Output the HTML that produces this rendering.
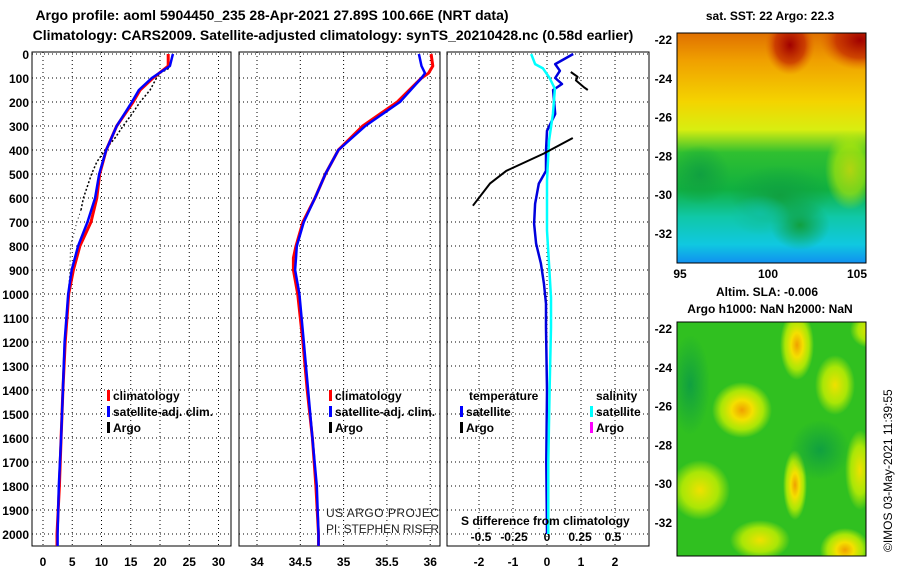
<!DOCTYPE html>
<html><head><meta charset="utf-8"><style>
body{margin:0;background:#fff;width:900px;height:580px;overflow:hidden;font-family:"Liberation Sans",sans-serif;}
svg text{font-family:"Liberation Sans",sans-serif;}
</style></head><body>
<svg id="c" width="900" height="580" xmlns="http://www.w3.org/2000/svg">
<defs>
<linearGradient id="sstBase" x1="0" y1="0" x2="0" y2="1">
<stop offset="0" stop-color="#e07000"/><stop offset="0.12" stop-color="#f0a000"/><stop offset="0.3" stop-color="#f4d400"/><stop offset="0.42" stop-color="#d8ee10"/><stop offset="0.52" stop-color="#30c030"/><stop offset="0.68" stop-color="#10b040"/><stop offset="0.8" stop-color="#10c8a8"/><stop offset="0.92" stop-color="#10c8e0"/><stop offset="1" stop-color="#1090f0"/>
</linearGradient>
<radialGradient id="redBlob"><stop offset="0" stop-color="#a00000"/><stop offset="0.6" stop-color="#c02000" stop-opacity="0.7"/><stop offset="1" stop-color="#e06000" stop-opacity="0"/></radialGradient>
<radialGradient id="yelBlob"><stop offset="0" stop-color="#f0a000"/><stop offset="0.35" stop-color="#f4e000"/><stop offset="0.7" stop-color="#c8f000" stop-opacity="0.8"/><stop offset="1" stop-color="#c8f000" stop-opacity="0"/></radialGradient>
<radialGradient id="ylBlob"><stop offset="0" stop-color="#f0e000"/><stop offset="0.6" stop-color="#c8f000" stop-opacity="0.8"/><stop offset="1" stop-color="#c8f000" stop-opacity="0"/></radialGradient>
<radialGradient id="dgBlob"><stop offset="0" stop-color="#10a040"/><stop offset="1" stop-color="#10a040" stop-opacity="0"/></radialGradient>
<radialGradient id="cyBlob"><stop offset="0" stop-color="#10c0a0"/><stop offset="1" stop-color="#10c0a0" stop-opacity="0"/></radialGradient>
<clipPath id="m1"><rect x="677" y="33" width="189" height="230"/></clipPath>
<clipPath id="m2"><rect x="677" y="322" width="189" height="234"/></clipPath>
</defs>
<g font-weight="bold" font-size="14" text-anchor="middle">
<text x="272" y="20">Argo profile: aoml 5904450_235 28-Apr-2021 27.89S 100.66E (NRT data)</text>
<text x="333" y="40">Climatology: CARS2009. Satellite-adjusted climatology: synTS_20210428.nc (0.58d earlier)</text>
</g>
<g id="panels"></g>
<g clip-path="url(#m1)">
<rect x="677" y="33" width="189" height="230" fill="url(#sstBase)"/>
<ellipse cx="860" cy="40" rx="40" ry="30" fill="url(#redBlob)"/>
<ellipse cx="790" cy="45" rx="25" ry="30" fill="url(#redBlob)"/>
<ellipse cx="700" cy="175" rx="30" ry="30" fill="url(#dgBlob)"/>
<ellipse cx="780" cy="195" rx="50" ry="30" fill="url(#dgBlob)"/>
<ellipse cx="800" cy="225" rx="30" ry="25" fill="url(#dgBlob)"/>
<ellipse cx="760" cy="215" rx="30" ry="20" fill="url(#cyBlob)"/>
<ellipse cx="850" cy="170" rx="25" ry="40" fill="url(#ylBlob)" opacity="0.7"/>
</g>
<rect x="677" y="33" width="189" height="230" fill="none" stroke="#000"/>
<g clip-path="url(#m2)">
<rect x="677" y="322" width="189" height="234" fill="#30c020"/>
<ellipse cx="742" cy="410" rx="30" ry="28" fill="url(#yelBlob)"/>
<ellipse cx="797" cy="345" rx="17" ry="35" fill="url(#yelBlob)"/>
<ellipse cx="700" cy="490" rx="30" ry="30" fill="url(#ylBlob)"/>
<ellipse cx="795" cy="485" rx="12" ry="35" fill="url(#yelBlob)"/>
<ellipse cx="835" cy="385" rx="20" ry="30" fill="url(#ylBlob)"/>
<ellipse cx="845" cy="550" rx="25" ry="22" fill="url(#yelBlob)"/>
<ellipse cx="870" cy="330" rx="20" ry="18" fill="url(#ylBlob)"/>
<ellipse cx="760" cy="540" rx="30" ry="20" fill="url(#ylBlob)"/>
<ellipse cx="860" cy="470" rx="15" ry="40" fill="url(#ylBlob)"/>
<ellipse cx="690" cy="385" rx="20" ry="50" fill="url(#dgBlob)"/>
<ellipse cx="820" cy="450" rx="30" ry="30" fill="url(#dgBlob)"/>
</g>
<rect x="677" y="322" width="189" height="234" fill="none" stroke="#000"/>
<g font-weight="bold" font-size="12">
<text x="770" y="20" text-anchor="middle">sat. SST: 22 Argo: 22.3</text>
<text x="767" y="296" text-anchor="middle">Altim. SLA: -0.006</text>
<text x="770" y="313" text-anchor="middle">Argo h1000: NaN h2000: NaN</text>
<text x="680" y="278" text-anchor="middle">95</text>
<text x="768" y="278" text-anchor="middle">100</text>
<text x="857" y="278" text-anchor="middle">105</text>
</g>
<g id="mapticks" font-weight="bold" font-size="12" text-anchor="end"></g>
<text transform="translate(892,552) rotate(-90)" font-size="12">©IMOS 03-May-2021 11:39:55</text>
</svg>
<script>
const depthT = [0,50,100,150,200,300,400,500,600,700,800,900,1000,1100,1200,1400,1600,1800,2000,2050];
const tempClim = [21.4,21.4,18.8,16.6,15.4,12.6,10.8,9.7,9.2,8.2,6.3,5.2,4.4,4.1,3.8,3.4,3.1,2.8,2.4,2.4];
const tempSat = [22.2,21.7,18.6,16.4,15.2,12.6,10.8,9.6,8.9,7.6,6.0,4.9,4.3,4.0,3.7,3.4,3.1,2.7,2.5,2.5];
const depthArgo = [60,80,100,150,200,250,300,350,400,450,500,550,600,650];
const tempArgo = [21.5,20.0,19.4,18.3,16.6,15.2,13.7,12.3,10.6,9.2,8.3,7.6,6.9,6.5];
const depthArgoDeep = [650,700,800,900,1000];
const tempArgoDeep = [6.5,5.8,4.7,4.6,4.3];
const depthS = [0,50,80,100,200,300,400,500,600,700,800,850,900,1000,1200,1400,1600,1800,2000,2050];
const salClim = [36.01,36.03,35.98,35.9,35.62,35.22,34.94,34.79,34.67,34.53,34.45,34.42,34.42,34.47,34.53,34.58,34.64,34.68,34.71,34.71];
const salSat = [35.87,35.9,35.94,35.9,35.65,35.25,34.94,34.79,34.67,34.54,34.46,34.45,34.44,34.49,34.54,34.59,34.64,34.69,34.71,34.71];
const depthD = [0,42,70,100,125,150,250,320,403,487,540,624,707,790,873,956,1040,1140,1400,1700,2000];
const tDiffSat = [0.77,0.24,0.38,0.24,0.44,0.18,0.24,0.0,-0.03,-0.03,-0.24,-0.35,-0.38,-0.32,-0.18,-0.09,-0.03,-0.03,0,-0.02,0];
const depthSD = [0,42,60,100,145,250,362,528,736,873,1015,1140,1400,1700,2000];
const sDiffSat = [-0.12,-0.09,-0.03,0.02,0.06,0.045,0.015,0,0,0.015,0.03,0.03,0.02,0.01,0.01];
const depthArgoDiff = [350,415,487,540,632];
const tDiffArgo = [0.76,-0.1,-1.2,-1.68,-2.18];
const depthArgoDiffTop = [75,95,110,140,150];
const tDiffArgoTop = [0.7,0.9,0.85,1.1,1.2];
const depthTicks = [0,100,200,300,400,500,600,700,800,900,1000,1100,1200,1300,1400,1500,1600,1700,1800,1900,2000];
const tempTicks = [0,5,10,15,20,25,30];
const salTicks = [34,34.5,35,35.5,36];
const tDiffTicks = [-2,-1,0,1,2];
const sDiffTicks = [-0.5,-0.25,0,0.25,0.5];
const latTicks = [-22,-24,-26,-28,-30,-32];

const NS='http://www.w3.org/2000/svg';
const root=document.getElementById('panels');
function el(tag,attrs,parent){const e=document.createElementNS(NS,tag);for(const k in attrs)e.setAttribute(k,attrs[k]);(parent||root).appendChild(e);return e;}
const yD = d => 54 + d*0.24;
const xT = t => 43 + t*5.85;
const xS = s => 257 + (s-34)*86.6;
const xDT = t => 547 + t*34;
const xDS = s => 547 + s*132;
const panels=[[32,231],[239,440],[447,649]];
const pTop=52,pBot=546;

panels.forEach((p,i)=>{
  const r=el('rect',{x:p[0],y:pTop,width:p[1]-p[0],height:pBot-pTop,fill:'none',stroke:'#000'});
  
  
  depthTicks.forEach(d=>{
    const l=el('line',{x1:p[0],x2:p[1],y1:yD(d),y2:yD(d),stroke:'#000','stroke-dasharray':'1 3'});
    
    
  });
});
depthTicks.forEach(d=>{
  const t=el('text',{x:29,y:yD(d)+5,'text-anchor':'end','font-size':'12','font-weight':'bold'});
  t.textContent=d;
  
  
});
function vgrid(ticks,fx,lblY){
  ticks.forEach(v=>{
    const l=el('line',{x1:fx(v),x2:fx(v),y1:pTop,y2:pBot,stroke:'#000','stroke-dasharray':'1 3'});
    
    
    const t=el('text',{x:fx(v),y:lblY,'text-anchor':'middle','font-size':'12','font-weight':'bold'});
    t.textContent=v;
    
    
  });
}
vgrid(tempTicks,xT,566);
vgrid(salTicks,xS,566);
vgrid(tDiffTicks,xDT,566);
sDiffTicks.forEach(v=>{
  const t=el('text',{x:xDS(v),y:541,'text-anchor':'middle','font-size':'12','font-weight':'bold'});
  t.textContent=v;
  
  
});
function line(ds,vs,fx,color,w,name,dash){
  const pts=ds.map((d,i)=>fx(vs[i]).toFixed(1)+','+yD(d).toFixed(1)).join(' ');
  const a={points:pts,fill:'none',stroke:color,'stroke-width':w,'stroke-linejoin':'round'};
  if(dash)a['stroke-dasharray']=dash;
  const e=el('polyline',a);
  
  
}
line(depthArgo,tempArgo,xT,'#000',1.5,'argo-temperature','2 2');
line(depthArgoDeep,tempArgoDeep,xT,'#000',1,'argo-temperature-deep','1 3');
line(depthT,tempClim,xT,'#f00',3,'temperature-climatology');
line(depthT,tempSat,xT,'#00f',2.5,'temperature-satellite');
line(depthS,salClim,xS,'#f00',3,'salinity-climatology');
line(depthS,salSat,xS,'#00f',2.5,'salinity-satellite');
line(depthD,tDiffSat,xDT,'#00d',2.5,'temperature-diff-satellite');
line(depthSD,sDiffSat,xDS,'#0ff',2.5,'salinity-diff-satellite');
line(depthArgoDiff,tDiffArgo,xDT,'#000',2,'temperature-diff-argo');
line(depthArgoDiffTop,tDiffArgoTop,xDT,'#000',2,'temperature-diff-argo-top');

function legend(x,y,color,label,name){
  const r=el('rect',{x:x,y:y-10,width:3,height:11,fill:color});
  
  
  const t=el('text',{x:x+6,y:y,'font-size':'12','font-weight':'bold'});
  t.textContent=label;
  
  
}
legend(107,400,'#f00','climatology','legend-t-climatology');
legend(107,416,'#00f','satellite-adj. clim.','legend-t-satellite');
legend(107,432,'#000','Argo','legend-t-argo');
legend(329,400,'#f00','climatology','legend-s-climatology');
legend(329,416,'#00f','satellite-adj. clim.','legend-s-satellite');
legend(329,432,'#000','Argo','legend-s-argo');
legend(460,416,'#00f','satellite','legend-d-t-satellite');
legend(460,432,'#000','Argo','legend-d-t-argo');
legend(590,416,'#0ff','satellite','legend-d-s-satellite');
legend(590,432,'#f0f','Argo','legend-d-s-argo');
[['temperature',469,400,'legend-temperature-heading'],['salinity',596,400,'legend-salinity-heading'],['S difference from climatology',461,525,'salinity-diff-axis-title']].forEach(a=>{
  const t=el('text',{x:a[1],y:a[2],'font-size':'12','font-weight':'bold'});
  t.textContent=a[0];
  
  
});
[['US ARGO PROJEC',326,517,'project-label'],['PI: STEPHEN RISER',326,533,'pi-label']].forEach(a=>{
  const t=el('text',{x:a[1],y:a[2],'font-size':'12',fill:'#222',textLength:'113'});
  t.textContent=a[0];
  
  
});
const mt=document.getElementById('mapticks');
const yLat1 = v => 39 + (-22 - v)*19.4;
const yLat2 = v => 328 + (-22 - v)*19.4;
latTicks.forEach(v=>{
  [yLat1(v),yLat2(v)].forEach(y=>{
    const t=el('text',{x:672,y:y+5},mt);
    t.textContent=v;
    
    
  });
});
</script>
</body></html>
